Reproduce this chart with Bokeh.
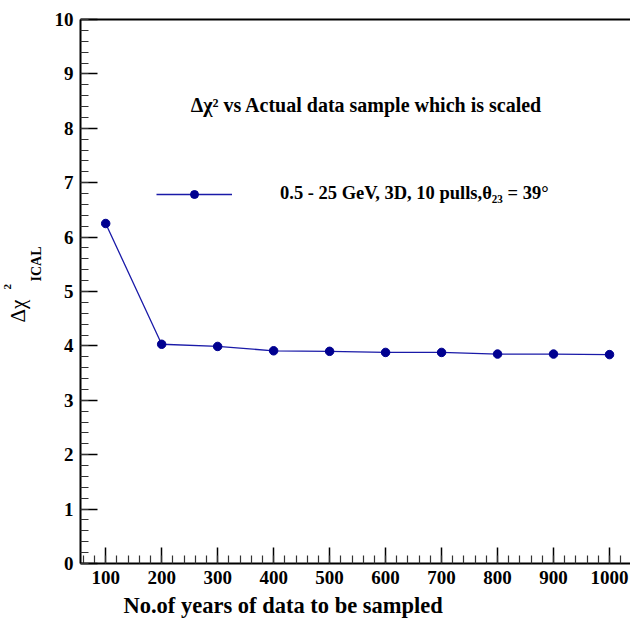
import math
from bokeh.plotting import figure
from bokeh.models import (Range1d, LinearAxis, SingleIntervalTicker, FixedTicker,
                          Label, Legend, LegendItem, ColumnDataSource, Title)
from bokeh.embed import file_html
from bokeh.resources import INLINE

years = [100, 200, 300, 400, 500, 600, 700, 800, 900, 1000]
delta_chi2 = [6.25, 4.03, 3.99, 3.91, 3.90, 3.88, 3.88, 3.85, 3.85, 3.84]

title_text = "\u0394\u03c7\u00b2 vs Actual data sample which is scaled"
legend_text = "0.5 - 25 GeV, 3D, 10 pulls,\u03b8\u2082\u2083 = 39\u00b0"
x_label = "No.of years of data to be sampled"

FONT = "Liberation Serif"
FL, FB = 80, 563  # frame left / bottom in canvas pixels

p = figure(width=630, height=621, output_backend="svg", toolbar_location=None,
           x_range=Range1d(55, 1037.5), y_range=Range1d(0, 10),
           min_border_left=80, min_border_right=0, min_border_top=19,
           min_border_bottom=58, x_axis_type=None, y_axis_type=None)
p.outline_line_color = None
p.background_fill_color = "white"
p.border_fill_color = "white"

def style_axis(ax, major, minor):
    ax.axis_line_color = "black"
    ax.axis_line_width = 2
    ax.major_tick_in = major
    ax.major_tick_out = 0
    ax.minor_tick_in = minor
    ax.minor_tick_out = 0
    ax.major_tick_line_color = "black"
    ax.major_tick_line_width = 1.5
    ax.minor_tick_line_color = "#333333"
    ax.minor_tick_line_width = 1.2
    ax.major_label_text_font = FONT
    ax.major_label_text_font_style = "bold"
    ax.major_label_text_font_size = "19px"
    ax.major_label_text_color = "black"

xaxis = LinearAxis(ticker=SingleIntervalTicker(interval=100, num_minor_ticks=5))
style_axis(xaxis, 16, 8)
xaxis.major_label_standoff = 7
p.add_layout(xaxis, "below")

yaxis = LinearAxis(ticker=SingleIntervalTicker(interval=1, num_minor_ticks=5))
style_axis(yaxis, 17, 8)
yaxis.major_label_standoff = 7
p.add_layout(yaxis, "left")

top = LinearAxis(ticker=FixedTicker(ticks=[]))
top.axis_line_color = "black"
top.axis_line_width = 2
top.major_tick_line_color = None
top.minor_tick_line_color = None
p.add_layout(top, "above")

src = ColumnDataSource(dict(x=years, y=delta_chi2))
ln = p.line("x", "y", source=src, line_color="#1a1aa8", line_width=1.3)
pts = p.scatter("x", "y", source=src, size=8.5, fill_color="#000090",
                line_color="#000090")

legend = Legend(items=[LegendItem(label=legend_text, renderers=[ln, pts])],
                location=(76, 359), padding=0, margin=0, glyph_width=76,
                glyph_height=20, label_height=20, label_standoff=48,
                border_line_color=None, background_fill_alpha=0,
                label_text_font=FONT, label_text_font_style="bold",
                label_text_font_size="18.5px", label_text_color="black")
p.add_layout(legend)

# title inside the frame
p.add_layout(Label(x=366 - FL, y=FB - 104, x_units="screen", y_units="screen",
                   text=title_text, text_align="center", text_baseline="middle",
                   text_font=FONT, text_font_style="bold", text_font_size="20px",
                   text_color="black"))

def side_title(text, place, offset, size, bold=True, standoff=0, valign="bottom"):
    t = Title(text=text, align="left", offset=offset, standoff=standoff,
              vertical_align=valign,
              text_font=FONT, text_font_size=size,
              text_font_style="bold" if bold else "normal", text_color="black")
    p.add_layout(t, place)

# x axis title
side_title(x_label, "below", 43, "22.5px", standoff=8)
# y axis title pieces (stacked outward from the axis)
side_title("ICAL", "left", FB - 281, "14px", standoff=11, valign="top")
side_title("\u0394\u03c7", "left", FB - 322, "21px", bold=False, standoff=-12)
side_title("2", "left", FB - 289, "11px", standoff=-3)

open("out.html", "w").write(file_html(p, INLINE))
